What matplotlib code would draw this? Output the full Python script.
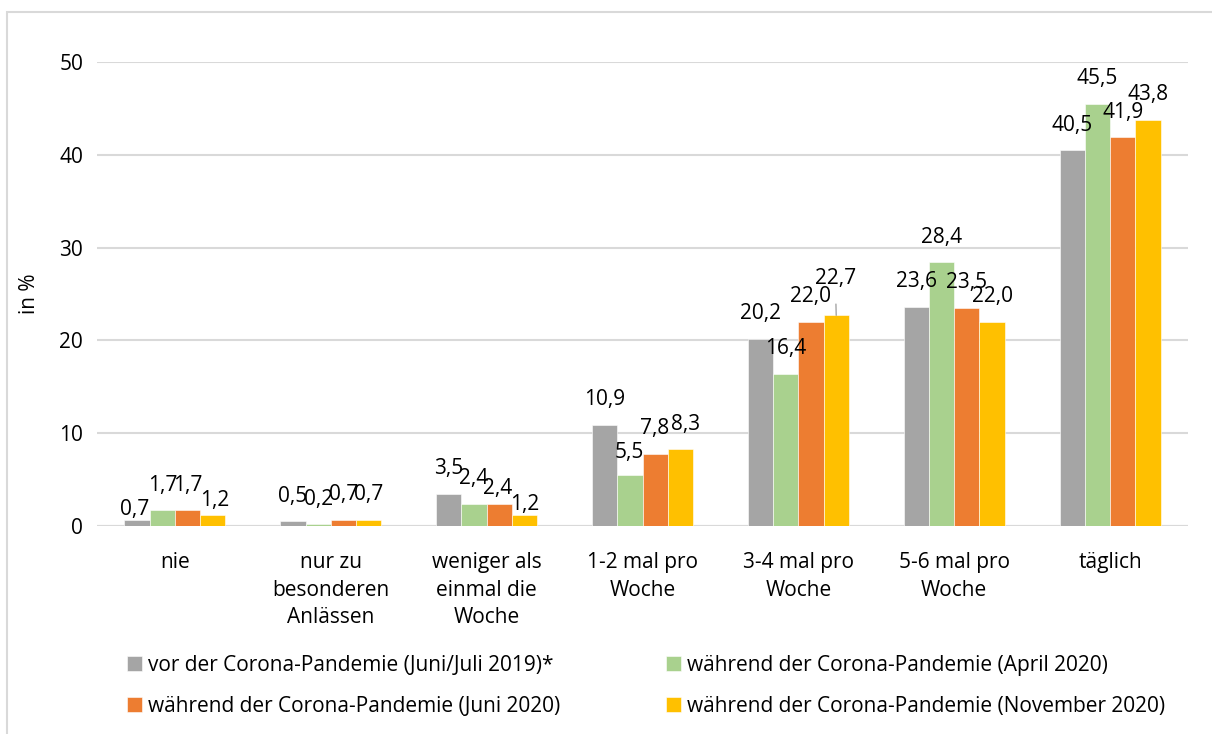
import matplotlib.pyplot as plt
from matplotlib.patches import Rectangle
import numpy as np

categories = ["nie", "nur zu\nbesonderen\nAnlässen", "weniger als\neinmal die\nWoche",
              "1-2 mal pro\nWoche", "3-4 mal pro\nWoche", "5-6 mal pro\nWoche", "täglich"]
series_names = ["vor der Corona-Pandemie (Juni/Juli 2019)*",
                "während der Corona-Pandemie (April 2020)",
                "während der Corona-Pandemie (Juni 2020)",
                "während der Corona-Pandemie (November 2020)"]
vor_2019 = [0.7, 0.5, 3.5, 10.9, 20.2, 23.6, 40.5]
april_2020 = [1.7, 0.2, 2.4, 5.5, 16.4, 28.4, 45.5]
juni_2020 = [1.7, 0.7, 2.4, 7.8, 22.0, 23.5, 41.9]
november_2020 = [1.2, 0.7, 1.2, 8.3, 22.7, 22.0, 43.8]
y_ticks = [0, 10, 20, 30, 40, 50]

colors = ["#A5A5A5", "#A9D18E", "#ED7D31", "#FFC000"]
grid_color = "#D9D9D9"

# label nudges in pixels (dx, dy above bar top); the labels in the original were dragged by hand
label_shift = {(0, 0): (-2, 10), (0, 3): (2, 14), (2, 2): (-2, 15), (2, 3): (0, 10),
               (3, 1): (-1, 22), (3, 3): (5, 24), (4, 3): (-1, 37)}


def fmt(v):
    return ("%.1f" % v).replace(".", ",")


def plot():
    plt.rcParams['font.family'] = ['Open Sans', 'DejaVu Sans']
    fs = 15
    fig = plt.figure(figsize=(12.12, 7.34), dpi=100)
    ax = fig.add_axes([97 / 1212, 208 / 734, 1091 / 1212, 464 / 734])

    # light frame around the chart like the excel chart area
    fig.patches.append(Rectangle((6.5 / 1212, -0.05), 1.2, (734 - 11.5) / 734 + 0.05,
                                 transform=fig.transFigure, fill=False,
                                 edgecolor=grid_color, lw=1.5))

    data = [vor_2019, april_2020, juni_2020, november_2020]
    x = np.arange(len(categories))
    w = 0.162
    bars = []
    for j, vals in enumerate(data):
        b = ax.bar(x + (j - 1.5) * w, vals, w, color=colors[j], edgecolor="white",
                   linewidth=0.4, label=series_names[j], zorder=3)
        bars.append(b)
        for i, v in enumerate(vals):
            dx, dy = label_shift.get((i, j), (0, 25))
            arrow = None
            if (i, j) == (4, 3):
                arrow = dict(arrowstyle='-', color="#A5A5A5", lw=1, shrinkA=9, shrinkB=0)
            ax.annotate(fmt(v), xy=(x[i] + (j - 1.5) * w, v), xytext=(dx, dy),
                        textcoords='offset pixels', ha='center', va='center',
                        fontsize=fs, color="black", arrowprops=arrow,
                        annotation_clip=False, zorder=5)

    ax.set_xlim(-0.5, len(categories) - 0.5)
    ax.set_ylim(0, 50)
    ax.set_yticks(y_ticks)
    ax.set_yticklabels([str(t) for t in y_ticks], fontsize=fs)
    ax.set_xticks(x)
    ax.set_xticklabels(categories, fontsize=fs, linespacing=1.4)
    ax.tick_params(axis='both', length=0)
    ax.tick_params(axis='y', pad=10)
    ax.tick_params(axis='x', pad=19)
    ax.grid(axis='y', color=grid_color, lw=1.5, zorder=0)
    for s in ax.spines.values():
        s.set_visible(False)
    ax.axhline(0, color=grid_color, lw=1.5, zorder=1)

    ax.set_ylabel("in %", fontsize=fs)
    ax.yaxis.set_label_coords(-0.052, 0.5)

    order = [0, 2, 1, 3]
    handles = [bars[k] for k in order]
    labels = [series_names[k] for k in order]
    fig.legend(handles, labels, ncol=2, loc='upper left',
               bbox_to_anchor=(127 / 1212, 1 - 655 / 734), frameon=False,
               fontsize=fs, handlelength=0.7, handleheight=0.7, handletextpad=0.3,
               columnspacing=5.1, labelspacing=0.95, borderpad=0, borderaxespad=0)

    fig.savefig("out.png", dpi=100)


if __name__ == "__main__":
    plot()
